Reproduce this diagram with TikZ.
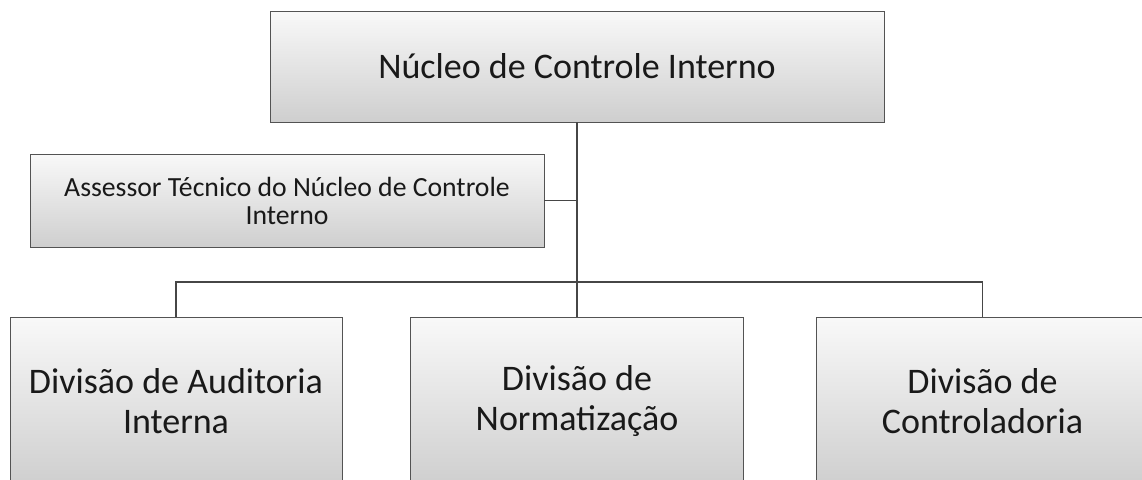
\documentclass[tikz,border=0pt]{standalone}
\usepackage{fontspec}
\setmainfont{Carlito}
\usepackage{xcolor}
\usetikzlibrary{positioning,calc}

\tikzset{
  orgbox/.style={draw=gray!65!black,line width=0.9pt,top color=gray!5,bottom color=gray!38,
    rectangle,align=center,inner sep=0pt,text=black!90},
  conn/.style={draw=gray!55!black,line width=1.3pt}
}

\begin{document}
\begin{tikzpicture}[x=1pt,y=-1pt]
		\useasboundingbox (0,0) rectangle (1142,479);
		\fill[white] (0,0) rectangle (1142,479);
		\clip (0,0) rectangle (1142,479);
		\node[orgbox,minimum width=614pt,minimum height=111pt,font=\fontsize{36}{40}\selectfont] (top) at (577,66.5) {Núcleo de Controle Interno};
		\node[orgbox,minimum width=514pt,minimum height=93pt,font=\fontsize{27.7}{28}\selectfont] (assessor) at (287,200.5) {Assessor Técnico do Núcleo de Controle\\Interno};
		\node[orgbox,minimum width=332pt,minimum height=168pt,font=\fontsize{36}{40}\selectfont] (divA) at (176,401) {Divisão de Auditoria\\Interna};
		\node[orgbox,minimum width=333pt,minimum height=168pt,font=\fontsize{36}{40}\selectfont] (divN) at (577,401) {Divisão de\\Normatização};
		\node[orgbox,minimum width=333pt,minimum height=168pt,font=\fontsize{36}{40}\selectfont] (divC) at (982.5,401) {Divisão de\\Controladoria};
		\coordinate (bus) at (577,282);
		% ligações
		\draw[conn] (top.south) -- (bus);
		\draw[conn] (assessor.east) -- (assessor.east -| top.south);
		\draw[conn] (divA.north) |- (bus) -| (divC.north);
		\draw[conn] (bus) -- (divN.north);
	\end{tikzpicture}
\end{document}
